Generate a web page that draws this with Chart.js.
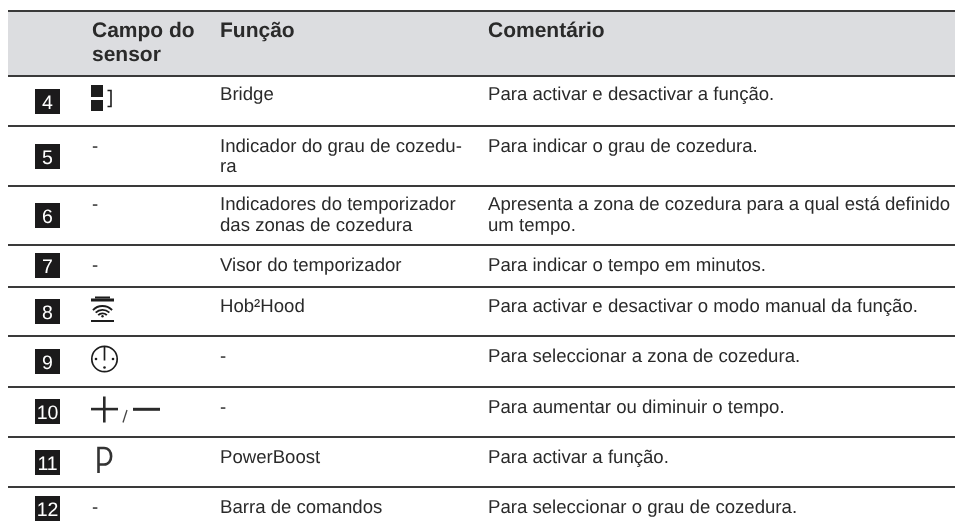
<!DOCTYPE html>
<html lang="pt">
<head>
<meta charset="utf-8">
<title>Campo do sensor</title>
<style>html,body{margin:0;padding:0;background:#fff}canvas{display:block}</style>
<script src="https://cdn.jsdelivr.net/npm/chart.js@4/dist/chart.umd.min.js"></script>
</head>
<body>
<canvas id="c" width="955" height="523"></canvas>
<script>
const headers = [["Campo do","sensor"],["Função"],["Comentário"]];
const rowNumbers = ["4","5","6","7","8","9","10","11","12"];
const sensorField = ["icon:bridge","-","-","-","icon:hood","icon:clock","icon:plusminus","icon:p","-"];
const functions = [["Bridge"],["Indicador do grau de cozedu-","ra"],["Indicadores do temporizador","das zonas de cozedura"],["Visor do temporizador"],["Hob²Hood"],["-"],["-"],["PowerBoost"],["Barra de comandos"]];
const comments = [["Para activar e desactivar a função."],["Para indicar o grau de cozedura."],["Apresenta a zona de cozedura para a qual está definido","um tempo."],["Para indicar o tempo em minutos."],["Para activar e desactivar o modo manual da função."],["Para seleccionar a zona de cozedura."],["Para aumentar ou diminuir o tempo."],["Para activar a função."],["Para seleccionar o grau de cozedura."]];
const ruleLines = [11,76,126,186,245,287,336,387,437,487];
const badgeCentres = [101.5,156.5,215.5,265.5,311.5,361.5,411.5,462.5,508.5];
const textBaselines = [100,151.5,210,270.5,312,362,413,462.5,513];
const columnX = {badge:47.5, sensor:92, func:220, comment:488};

const INK = '#2a2a2a', RULE = '#3a3a3a';
const BODY = '18.6px "Liberation Sans"', BOLD = 'bold 21px "Liberation Sans"';

function drawIcon(ctx, kind, x, y){
  // x,y: pixel origin of the sensor column at the row's centre line
  ctx.save();
  ctx.fillStyle = '#1d1d1d'; ctx.strokeStyle = '#1d1d1d'; ctx.lineCap='butt';
  if(kind==='bridge'){
    ctx.fillRect(x-1,y-16.5,12,12); ctx.fillRect(x-1,y-1.5,12,11);
    ctx.lineWidth=1.6; ctx.beginPath();
    ctx.moveTo(x+15.5,y-11); ctx.lineTo(x+19,y-11); ctx.lineTo(x+19,y+5); ctx.lineTo(x+15.5,y+5); ctx.stroke();
  } else if(kind==='hood'){
    ctx.fillRect(x+3,y-15,15,2); ctx.fillRect(x-1,y-13,23,3);
    ctx.fillRect(x-1,y+8.5,23,2);
    const cx=x+10.5, cy=y+7.8, half=Math.PI*0.255;
    [13.3,9.5,6].forEach(r=>{ctx.lineWidth=1.8;ctx.beginPath();ctx.arc(cx,cy,r,-Math.PI/2-half,-Math.PI/2+half);ctx.stroke();});
    ctx.beginPath();ctx.arc(cx,cy-3,1.2,0,Math.PI*2);ctx.fill();
  } else if(kind==='clock'){
    ctx.lineWidth=1.7; ctx.beginPath();ctx.arc(x+12.5,y-2.5,12.7,0,Math.PI*2);ctx.stroke();
    ctx.beginPath();ctx.moveTo(x+12.5,y-15);ctx.lineTo(x+12.5,y-1);ctx.stroke();
    [[4,-2.5],[21,-2.5],[12.5,6]].forEach(([dx,dy])=>{ctx.beginPath();ctx.arc(x+dx,y+dy,1.3,0,Math.PI*2);ctx.fill();});
  } else if(kind==='plusminus'){
    ctx.fillStyle='#2a2a2a';
    ctx.fillRect(x-1,y-3.7,27,2.6); ctx.fillRect(x+11,y-15,2.6,26);
    ctx.fillRect(x+41,y-3.7,27,3);
    ctx.strokeStyle='#444';ctx.lineWidth=1.3;ctx.beginPath();ctx.moveTo(x+31,y+11);ctx.lineTo(x+35,y-1.5);ctx.stroke();
  } else if(kind==='p'){
    ctx.strokeStyle='#333';ctx.lineWidth=2.6;ctx.beginPath();
    ctx.moveTo(x+6.5,y+10.5);ctx.lineTo(x+6.5,y-14.5);ctx.lineTo(x+12,y-14.5);
    ctx.bezierCurveTo(x+21.5,y-14.5,x+21.5,y+2,x+12,y+2);ctx.lineTo(x+6.5,y+2);ctx.stroke();
  }
  ctx.restore();
}

const tablePlugin = {
  id:'tableText',
  afterDatasetsDraw(chart){
    const {ctx, scales:{x:sx, y:sy}} = chart;
    ctx.save();
    ctx.textRendering='geometricPrecision';
    ctx.textBaseline='alphabetic'; ctx.textAlign='left'; ctx.fillStyle=INK;
    ctx.font=BOLD;
    const hx=[columnX.sensor,columnX.func,columnX.comment];
    headers.forEach((lines,i)=>lines.forEach((t,k)=>ctx.fillText(t,sx.getPixelForValue(hx[i]),sy.getPixelForValue(37+k*24))));
    ctx.font='19.5px "Liberation Sans"';
    ctx.textAlign='center'; ctx.textBaseline='alphabetic'; ctx.fillStyle='#fff';
    rowNumbers.forEach((n,i)=>ctx.fillText(n,sx.getPixelForValue(columnX.badge),sy.getPixelForValue(badgeCentres[i])+7));
    ctx.textAlign='left'; ctx.fillStyle=INK; ctx.font=BODY;
    rowNumbers.forEach((_,i)=>{
      const base=textBaselines[i];
      const s=sensorField[i];
      if(s.startsWith('icon:')) drawIcon(ctx,s.slice(5),sx.getPixelForValue(columnX.sensor),sy.getPixelForValue(badgeCentres[i]));
      else ctx.fillText(s,sx.getPixelForValue(columnX.sensor),sy.getPixelForValue(base));
      functions[i].forEach((t,k)=>ctx.fillText(t,sx.getPixelForValue(columnX.func),sy.getPixelForValue(base+k*20.5)));
      comments[i].forEach((t,k)=>ctx.fillText(t,sx.getPixelForValue(columnX.comment),sy.getPixelForValue(base+k*20.5)));
    });
    ctx.restore();
  }
};

new Chart(document.getElementById('c'),{
  type:'bar',
  data:{datasets:[
    {type:'scatter',order:1,
     data:badgeCentres.map(y=>({x:columnX.badge,y})),
     pointStyle:'rect',pointRadius:17.68,pointHoverRadius:17.68,pointBorderWidth:0,
     backgroundColor:'#1b1a1b',borderColor:'#1b1a1b',showLine:false},
    {type:'bar',order:2,
     data:[{x:481.5,y:[ruleLines[0],ruleLines[1]]}],
     backgroundColor:'#dcdde0',borderWidth:0,barThickness:947,grouped:false}
  ]},
  options:{
    responsive:false,animation:false,
    layout:{autoPadding:false,padding:{left:8,right:0,top:0,bottom:0}},
    plugins:{legend:{display:false},tooltip:{enabled:false},title:{display:false}},
    events:[],
    scales:{
      x:{type:'linear',min:8,max:955,offset:false,display:false},
      y:{type:'linear',reverse:true,min:0,max:523,ticks:{display:false},
         grid:{color:RULE,lineWidth:2,drawTicks:false,z:1},border:{display:false},
         afterBuildTicks(a){a.ticks=ruleLines.map(value=>({value}));}}
    }
  },
  plugins:[tablePlugin]
});
</script>
</body>
</html>
